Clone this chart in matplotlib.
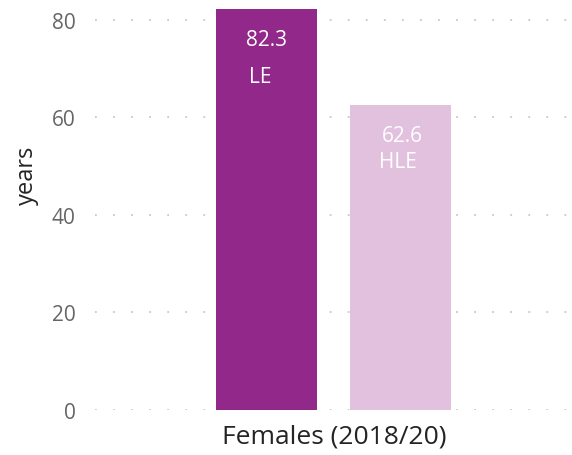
import matplotlib.pyplot as plt

# data
category = "Females (2018/20)"
series = ["LE", "HLE"]
values = [82.3, 62.6]
colors = ["#922889", "#E1C1DE"]
yticks = [0, 20, 40, 60, 80]

plt.rcParams['font.family'] = ['Open Sans', 'DejaVu Sans']

fig = plt.figure(figsize=(5.72, 4.56), dpi=100)
# y=0 at 411px, 4.875 px per year, top at 82.5
ax = fig.add_axes([95 / 572, 45 / 456, 475 / 572, 402.2 / 456])

offsets = [-0.265, 0.265]
ax.bar(offsets, values, width=0.4, color=colors, zorder=2)

# value + series labels inside the bars
ax.text(offsets[0] + 0.0, values[0] - 6.2, f"{values[0]}", color="white",
        ha="center", va="center", fontsize=15)
ax.text(offsets[0] - 0.025, values[0] - 13.9, series[0], color="white",
        ha="center", va="center", fontsize=15)
ax.text(offsets[1] + 0.005, values[1] - 6.3, f"{values[1]}", color="white",
        ha="center", va="center", fontsize=15)
ax.text(offsets[1] - 0.012, values[1] - 11.6, series[1], color="white",
        ha="center", va="center", fontsize=15)

ax.set_xlim(-0.945, 0.935)
ax.set_ylim(0, 82.5)
ax.set_yticks(yticks)
ax.set_xticks([0])
ax.set_xticklabels([category], fontsize=19, color="#252423")
ax.tick_params(axis="y", labelsize=15, labelcolor="#666666", length=0, pad=14)
ax.tick_params(axis="x", length=0, pad=10)
ax.set_ylabel("years", fontsize=17, color="#252423")
ax.yaxis.set_label_coords(-0.118, 0.587)

ax.grid(axis="y", color="#C8C8C8", linestyle=(0, (1, 9)), linewidth=1.3, zorder=0)
for s in ax.spines.values():
    s.set_visible(False)

fig.savefig("out.png", dpi=100)
